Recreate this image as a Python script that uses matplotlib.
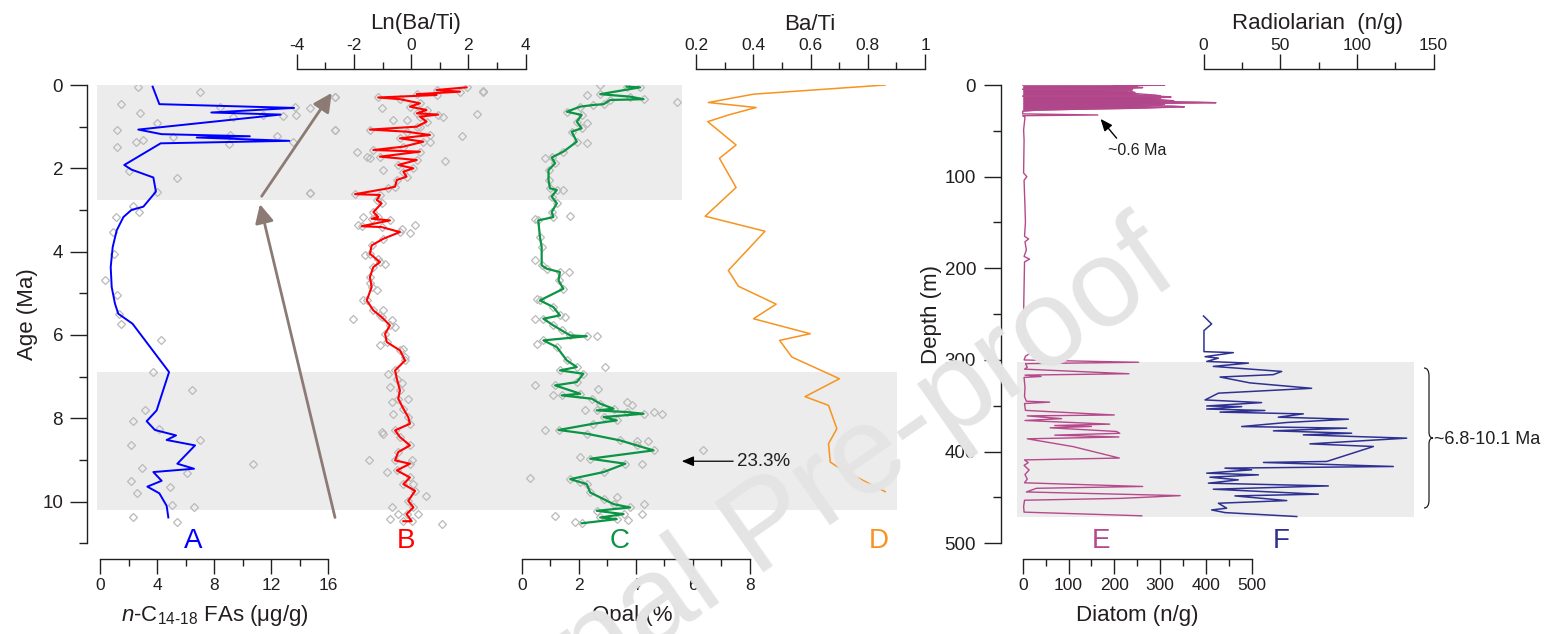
import matplotlib.pyplot as plt
from matplotlib.path import Path
from matplotlib.patches import PathPatch

plt.rcParams['font.family'] = ['Liberation Sans', 'DejaVu Sans']
plt.rcParams['axes.unicode_minus'] = False
plt.rcParams['mathtext.fontset'] = 'custom'
plt.rcParams['mathtext.rm'] = 'Liberation Sans'
plt.rcParams['mathtext.it'] = 'Liberation Sans:italic'

# ---------------- data ----------------
# A: n-C14-18 fatty acids (ug/g) against age (Ma)
fa_age = [0.04, 0.46, 0.55, 0.66, 0.71, 1.07, 1.18, 1.23, 1.26, 1.34, 1.40, 1.92, 2.03, 2.22,
          2.56, 2.92, 3.0, 3.17, 3.49, 3.89, 4.37, 4.85, 5.25, 5.49, 5.73, 6.89, 7.81, 8.07,
          8.28, 8.41, 8.52, 8.65, 9.09, 9.21, 9.29, 9.50, 9.64, 9.80, 10.10, 10.38]
fa_val = [3.69, 4.16, 13.6, 7.8, 12.66, 2.68, 4.32, 10.5, 6.78, 13.27, 4.25, 1.7, 2.2, 3.74,
          3.92, 3.04, 2.2, 1.64, 1.17, 0.89, 0.75, 0.82, 1.05, 1.28, 2.28, 4.84, 3.97, 3.27,
          3.85, 5.33, 4.67, 6.66, 5.42, 6.59, 3.74, 4.32, 3.32, 4.16, 4.67, 4.79]
fa_pts_age = [0.04, 0.16, 0.46, 0.68, 0.92, 1.07, 1.48, 1.37, 1.31, 1.24, 1.20, 1.42, 1.23, 1.36,
              0.52, 0.76, 0.72, 0.75, 0.52, 0.72, 0.56, 0.28, 1.08, 2.23, 2.07, 2.56, 2.59, 2.91,
              3.05, 3.17, 3.53, 4.05, 4.69, 5.03, 5.49, 5.73, 6.13, 6.89, 7.32, 7.81, 8.07, 8.25,
              8.52, 8.64, 9.09, 9.19, 9.32, 9.50, 9.64, 9.80, 10.07, 10.14, 10.38, 10.50]
fa_pts_val = [2.69, 7.01, 1.45, 2.80, 3.97, 1.17, 1.21, 2.52, 3.04, 5.14, 9.11, 9.06, 12.38, 13.55,
              8.41, 9.34, 11.45, 12.85, 13.67, 13.74, 14.72, 16.47, 16.47, 5.42, 2.06, 3.97, 14.72, 2.34,
              2.76, 1.12, 0.89, 0.98, 0.35, 1.17, 1.33, 1.45, 4.27, 3.69, 6.42, 3.15, 2.34, 4.16,
              7.01, 2.15, 10.7, 2.92, 6.07, 2.15, 4.91, 2.62, 5.02, 6.61, 2.34, 5.42]

# B: Ln(Ba/Ti) against age
lnba_age = [0.056, 0.12, 0.16, 0.22, 0.24, 0.30, 0.34, 0.44, 0.52, 0.60, 0.68, 0.71, 0.76, 0.88,
            1.0, 1.07, 1.12, 1.20, 1.28, 1.36, 1.48, 1.56, 1.60, 1.72, 1.80, 1.92, 2.0, 2.08,
            2.20, 2.28, 2.44, 2.48, 2.62, 2.64, 2.76, 2.84, 3.05, 3.17, 3.21, 3.25, 3.39, 3.41,
            3.53, 3.69, 3.85, 4.05, 4.25, 4.37, 4.61, 4.85, 5.17, 5.41, 5.57, 5.77, 5.97, 6.17,
            6.37, 6.61, 6.85, 7.05, 7.33, 7.53, 7.77, 7.97, 8.13, 8.29, 8.45, 8.65, 8.81, 9.01,
            9.09, 9.25, 9.42, 9.58, 9.74, 9.98, 10.14, 10.30, 10.47, 10.47]
lnba_val = [1.94, 0.89, 1.71, 0.2, 0.89, -1.15, -0.39, 0.31, -0.04, 0.54, 0.2, 0.95, 0.31, 0.54,
            0.2, -1.44, -0.16, 0.66, -0.39, 0.43, -0.27, -1.32, 0.31, -1.09, 0.2, -0.45, 0.08, -0.27,
            -0.16, -0.5, -0.56, -0.8, -1.96, -1.09, -1.2, -1.03, -1.32, -1.15, -1.38, -0.74, -1.73, -1.03,
            -0.39, -0.97, -1.38, -1.44, -1.09, -1.32, -1.44, -1.38, -1.55, -1.32, -1.03, -0.74, -0.91, -0.85,
            -0.39, -0.21, -0.56, -0.5, -0.39, -0.45, -0.27, -0.1, -0.04, -0.56, -0.39, -0.04, -0.45, -0.56,
            -0.04, -0.5, -0.04, -0.27, 0.14, -0.1, 0.08, -0.16, 0.02, -0.27]
lnba_pts_age = [0.16, 0.70, 1.23, 1.82, 1.36, 0.78, 1.08, 0.28, 0.56, 1.60, 1.72, 1.76, 2.04, 0.84,
                3.37, 3.17, 3.37, 3.55, 3.45, 4.09, 4.17, 4.29, 4.93, 4.75, 5.17, 5.61, 5.41, 5.53,
                5.65, 5.81, 6.25, 6.33, 6.53, 6.93, 7.16, 7.25, 7.61, 7.53, 7.89, 8.37, 8.33, 9.01,
                9.29, 9.01, 9.58, 9.86, 10.14, 10.30, 10.54, 10.42, 10.30, 1.0, 0.84, 2.59, 0.14]
lnba_pts_val = [2.53, 2.29, 1.77, 1.19, 0.66, 1.13, -2.66, -2.66, -1.03, -1.9, -1.55, -1.44, -0.97, -0.62,
                -1.84, -1.67, 0.14, -0.04, -0.33, -1.61, -1.15, -0.91, -1.2, -1.44, -1.67, -2.02, -0.97, -1.09,
                -0.68, -0.56, -1.09, -0.27, -0.21, -0.8, -0.33, -0.74, -0.68, -0.1, -0.62, -0.97, -1.03, -1.46,
                -0.85, 0.02, 0.08, 0.52, -0.68, 0.25, 1.07, -0.74, -0.45, 0.31, -0.16, -3.53, 2.52]

# C: opal (%) against age
opal_age = [0.04, 0.056, 0.22, 0.28, 0.34, 0.36, 0.46, 0.48, 0.52, 0.64, 0.72, 0.88, 1.04, 1.12,
            1.36, 1.60, 1.74, 1.88, 2.04, 2.28, 2.48, 2.52, 2.68, 2.84, 3.05, 3.17, 3.25, 3.65,
            3.89, 4.33, 4.41, 4.49, 4.69, 4.89, 5.17, 5.33, 5.53, 5.61, 5.77, 5.89, 6.01, 6.03,
            6.13, 6.29, 6.61, 6.77, 6.85, 6.93, 7.13, 7.21, 7.41, 7.45, 7.53, 7.65, 7.77, 7.81,
            7.85, 7.89, 7.97, 8.05, 8.13, 8.28, 8.37, 8.53, 8.65, 8.77, 8.97, 9.09, 9.29, 9.46,
            9.58, 9.78, 9.94, 10.06, 10.14, 10.22, 10.30, 10.38, 10.42, 10.52]
opal_val = [3.68, 4.15, 2.75, 3.8, 4.27, 3.1, 2.87, 2.51, 2.05, 1.58, 2.1, 1.93, 2.1, 1.75,
            1.93, 1.46, 1.05, 1.17, 0.94, 0.94, 0.99, 1.23, 1.05, 1.23, 1.05, 1.11, 0.58, 0.64,
            0.7, 0.7, 0.88, 1.34, 1.29, 1.46, 0.64, 1.11, 1.34, 0.76, 1.11, 1.4, 1.7, 2.28,
            0.76, 1.23, 1.58, 1.93, 1.34, 2.16, 1.93, 1.17, 2.05, 1.4, 2.46, 2.75, 3.22, 2.63,
            3.68, 4.27, 2.87, 3.33, 2.51, 1.29, 2.28, 3.45, 4.03, 4.62, 2.4, 3.63, 2.87, 1.7,
            2.28, 2.4, 2.87, 3.22, 3.8, 2.63, 3.57, 2.75, 3.33, 2.1]
opal_pts_age = [0.40, 0.0, 0.24, 0.92, 1.40, 1.76, 2.52, 3.15, 3.21, 4.21, 4.49, 5.13, 5.61, 5.57,
                6.03, 6.21, 6.77, 7.19, 7.45, 7.29, 7.61, 7.69, 7.81, 7.85, 7.89, 8.29, 8.55, 8.55,
                8.93, 9.09, 9.43, 9.54, 9.90, 10.06, 10.30, 10.34, 10.50, 10.44, 8.77]
opal_pts_val = [5.44, 2.75, 2.28, 2.28, 2.28, 0.82, 1.46, 1.7, 0.47, 0.47, 1.64, 0.53, 0.47, 1.52,
                2.63, 0.53, 2.92, 0.47, 1.11, 2.69, 3.68, 3.86, 2.22, 4.62, 4.91, 0.82, 4.03, 4.44,
                2.05, 4.21, 0.29, 2.05, 3.33, 4.27, 4.21, 1.17, 1.87, 3.74, 6.36]

# D: Ba/Ti against age
bati_age = [0.0, 0.22, 0.42, 0.54, 0.72, 0.88, 1.44, 1.76, 2.46, 3.15, 3.51, 4.45, 4.83, 5.26,
            5.61, 5.97, 6.13, 6.53, 7.05, 7.48, 7.69, 8.25, 8.61, 9.05, 9.21, 9.58, 9.76]
bati_val = [0.861, 0.401, 0.243, 0.41, 0.313, 0.241, 0.34, 0.282, 0.34, 0.232, 0.441, 0.313, 0.348, 0.48,
            0.401, 0.599, 0.492, 0.535, 0.701, 0.581, 0.663, 0.692, 0.663, 0.669, 0.704, 0.809, 0.861]

# E: diatom (n/g) against depth (m)
diat_depth = [0.0, 0.2, 0.8, 1.5, 2.2, 2.8, 3.5, 4.3, 4.7, 5.0, 6.0, 7.0, 8.0, 9.0, 10.0, 11.0,
              11.8, 12.1, 12.4, 13.2, 14.0, 14.8, 15.6, 16.4, 17.2, 18.0, 18.6, 19.3, 20.0, 20.8,
              21.5, 22.3, 23.0, 23.8, 24.6, 25.5, 26.5, 27.5, 28.5, 31.5, 32.7, 33.5, 35, 49, 60,
              96, 100, 104, 133, 150, 165, 168, 171, 180, 187, 190, 193, 220, 249, 280, 285, 292,
              296, 300, 302.5, 304, 308, 310, 315, 316.5, 318, 319, 330, 340, 345, 346, 347.5, 355,
              360, 361, 364, 366, 370, 371.5, 372.5, 374, 378, 380, 382, 384, 386, 394.5, 407, 409,
              412, 415, 420, 425, 430, 434, 438, 440, 444, 448, 451, 453, 460, 466, 470]
diat_val = [0, 310, 200, 250, 240, 262, 235, 233, 0, 240, 228, 236, 245, 240, 262, 290,
            300, 0, 305, 324, 290, 300, 291, 310, 330, 300, 380, 422, 300, 310,
            298, 260, 330, 353, 300, 240, 120, 30, 0, 0, 164, 0, 5, 2, 3,
            2, 9, 3, 5, 6, 4, 13, 5, 8, 3, 15, 4, 3, 2, 4, 12, 18,
            6, 3, 253, 6, 10, 4, 232, 5, 40, 3, 5, 4, 8, 59, 4, 6,
            200, 10, 85, 5, 190, 70, 150, 60, 205, 212, 70, 210, 10, 110, 211, 4,
            12, 3, 14, 5, 10, 4, 262, 30, 8, 344, 213, 4, 2, 3, 260]

# F: radiolarian (n/g) against depth (m)
rad_depth = [252, 260.7, 267.9, 290.9, 292, 296.4, 298, 301.6, 303.4, 307, 312.5, 316, 318.6, 325,
             330.9, 336.2, 343.6, 346.5, 350.2, 350.9, 353.5, 355.1, 356.9, 358.8, 362.4, 364.6, 368.2,
             372.6, 374.4, 377.3, 379.9, 381.7, 385.3, 391.5, 394.4, 410.7, 411.8, 416.2, 418, 419.8,
             423.5, 425.3, 427.9, 430.8, 434.4, 437.4, 441, 446.4, 448.3, 453.4, 456.3, 461.7, 463.6,
             466.5, 470.8]
rad_val = [0, 5.3, 0.3, 0.3, 19.5, 1.0, 9.7, 2.1, 29.3, 6.4, 51, 45.6, 10.8, 30.3,
           70.5, 9.7, 1.0, 37.9, 2.1, 24.9, 2.1, 40, 10.8, 65.1, 48.8, 94.5, 54.3,
           24.9, 93.4, 45.6, 96.6, 65.1, 132.5, 69.4, 110.8, 80.4, 39.1, 123.8, 14, 31.4,
           2.1, 35.8, 4.2, 22.7, 3.2, 81.4, 6.4, 74.9, 20.5, 54.3, 9.7, 15.1, 5.3,
           14, 60.8]

# grey intervals
age_bands = [(0.0, 2.76), (6.9, 10.19)]
depth_band = (302, 471)

# ---------------- layout (pixel based) ----------------
W, H = 1559, 634
fig = plt.figure(figsize=(W / 100, H / 100), dpi=100)
INK = '#231f20'


def rect(x0, x1, y0, y1):
    return [x0 / W, 1 - y1 / H, (x1 - x0) / W, (y1 - y0) / H]


def lims(v0, p0, v1, p1, x0, x1):
    s = (p1 - p0) / (v1 - v0)
    return v0 - (p0 - x0) / s, v0 + (x1 - p0) / s


def style_x(ax, side, bounds, major, minor, labels, off):
    for k, s in ax.spines.items():
        s.set_visible(k == side)
    sp = ax.spines[side]
    sp.set_position(('outward', off * 0.72))
    sp.set_bounds(*bounds)
    sp.set_linewidth(1.0)
    sp.set_color(INK)
    ax.xaxis.set_ticks_position(side)
    ax.set_xticks(major, labels=labels)
    ax.set_xticks(minor, minor=True)
    ax.tick_params(axis='x', which='major', length=10.5, width=1.0, labelsize=12.5,
                   pad=3 if side == 'bottom' else 1.5, colors=INK)
    ax.tick_params(axis='x', which='minor', length=5, width=1.0, colors=INK)
    ax.tick_params(axis='y', left=False, right=False, labelleft=False, labelright=False)
    ax.patch.set_visible(False)


def style_y(ax, major, minor, ylim, pad):
    ax.spines['left'].set_visible(True)
    ax.spines['left'].set_linewidth(1.0)
    ax.spines['left'].set_color(INK)
    ax.tick_params(axis='y', left=True, labelleft=True)
    ax.set_yticks(major)
    ax.set_yticks(minor, minor=True)
    ax.set_ylim(*ylim)
    ax.tick_params(axis='y', which='major', length=12, width=1.0, labelsize=13.5, pad=pad, colors=INK)
    ax.tick_params(axis='y', which='minor', length=6, width=1.0, colors=INK)


LX0, LX1 = 86.7, 940
RX0, RX1 = 1001, 1445
Y0, Y1 = 85, 543.3
diamond = dict(ls='none', marker='D', ms=4, mfc='none', mec='#bababa', mew=0.9)

# A (host of the left panel)
axA = fig.add_axes(rect(LX0, LX1, Y0, Y1))
style_x(axA, 'bottom', (0, 16), [0, 4, 8, 12, 16], [2, 6, 10, 14], None, 16)
style_y(axA, [0, 2, 4, 6, 8, 10], [1, 3, 5, 7, 9, 11], (11, 0), 5)
axA.set_xlim(*lims(0, 100, 16, 328.3, LX0, LX1))
for (a0, a1), xr in zip(age_bands, [(97, 682), (97, 897)]):
    axA.axhspan(a0, a1, xmin=(xr[0] - LX0) / (LX1 - LX0), xmax=(xr[1] - LX0) / (LX1 - LX0),
                color='#ececec', lw=0, zorder=0)
axA.plot(fa_pts_val, fa_pts_age, **diamond)
axA.plot(fa_val, fa_age, color='#0000ff', lw=1.4)
arrow_kw = dict(arrowstyle='-|>,head_length=0.8,head_width=0.4', color='#8c7b75', lw=2.0,
                mutation_scale=14, shrinkA=0, shrinkB=0)
axA.annotate('', xy=(11.21, 2.86), xytext=(16.47, 10.38), arrowprops=arrow_kw)
axA.annotate('', xy=(16.24, 0.19), xytext=(11.33, 2.67), arrowprops=arrow_kw)

# B
axB = fig.add_axes(rect(LX0, LX1, Y0, Y1))
style_x(axB, 'top', (-4, 4), [-4, -2, 0, 2, 4], [-3, -1, 1, 3], None, 15.7)
axB.set_xlim(*lims(-4, 296.7, 4, 525.5, LX0, LX1))
axB.set_ylim(11, 0)
axB.plot(lnba_pts_val, lnba_pts_age, **diamond)
axB.plot(lnba_val, lnba_age, **diamond)
axB.plot(lnba_val, lnba_age, color='#ff0000', lw=1.5)

# C
axC = fig.add_axes(rect(LX0, LX1, Y0, Y1))
style_x(axC, 'bottom', (0, 8), [0, 2, 4, 6, 8], [1, 3, 5, 7], None, 16)
axC.set_xlim(*lims(0, 521.7, 8, 750, LX0, LX1))
axC.set_ylim(11, 0)
axC.plot(opal_pts_val, opal_pts_age, **diamond)
axC.plot(opal_val, opal_age, **diamond)
axC.plot(opal_val, opal_age, color='#0b9444', lw=1.6)
axC.annotate('', xy=(5.61, 9.03), xytext=(7.41, 9.03),
             arrowprops=dict(arrowstyle='-|>,head_length=0.6,head_width=0.25', color='black',
                             lw=0.9, mutation_scale=12, shrinkA=0, shrinkB=0))
axC.text(7.55, 9.03, '23.3%', ha='left', va='center', fontsize=13.5, color=INK)

# D
axD = fig.add_axes(rect(LX0, LX1, Y0, Y1))
style_x(axD, 'top', (0.2, 1.0), [0.2, 0.4, 0.6, 0.8, 1.0], [0.3, 0.5, 0.7, 0.9],
        ['0.2', '0.4', '0.6', '0.8', '1'], 15.7)
axD.set_xlim(*lims(0.2, 696, 1.0, 925, LX0, LX1))
axD.set_ylim(11, 0)
axD.plot(bati_val, bati_age, color='#f7931e', lw=1.1)

# E (host of the right panel)
axE = fig.add_axes(rect(RX0, RX1, Y0, Y1))
style_x(axE, 'bottom', (0, 500), [0, 100, 200, 300, 400, 500], [50, 150, 250, 350, 450], None, 16)
style_y(axE, [0, 100, 200, 300, 400, 500], [50, 150, 250, 350, 450], (500, 0), 6)
axE.set_xlim(*lims(0, 1022.7, 500, 1251.7, RX0, RX1))
axE.axhspan(*depth_band, xmin=(1017 - RX0) / (RX1 - RX0), xmax=(1413.6 - RX0) / (RX1 - RX0),
            color='#ececec', lw=0, zorder=0)
axE.fill_betweenx(diat_depth[:39], 0, diat_val[:39], color='#b0478a', lw=0)
axE.plot(diat_val, diat_depth, color='#b5498b', lw=1.0)
axE.annotate('', xy=(170, 37), xytext=(205, 58),
             arrowprops=dict(arrowstyle='-|>,head_length=0.6,head_width=0.25', color='black',
                             lw=1.0, mutation_scale=12, shrinkA=0, shrinkB=0))
axE.text(187, 72, '~0.6 Ma', ha='left', va='center', fontsize=11.5, color=INK)

# F
axF = fig.add_axes(rect(RX0, RX1, Y0, Y1))
style_x(axF, 'top', (0, 150), [0, 50, 100, 150], [25, 75, 125], None, 15.7)
axF.set_xlim(*lims(0, 1203.5, 150, 1433.5, RX0, RX1))
axF.set_ylim(500, 0)
axF.plot(rad_val, rad_depth, color='#2e3192', lw=1.1)

# ---------------- texts ----------------
def ftext(x, y, s, **kw):
    kw.setdefault('color', INK)
    return fig.text(x / W, 1 - y / H, s, **kw)


ftext(416, 29.5, 'Ln(Ba/Ti)', ha='center', va='baseline', fontsize=16)
ftext(810, 30, 'Ba/Ti', ha='center', va='baseline', fontsize=16)
ftext(1317, 29.5, 'Radiolarian  (n/g)', ha='center', va='baseline', fontsize=16)
ftext(215, 620.5, r'$\mathit{n}$-C$_{\mathregular{14\text{-}18}}$ FAs ($\mathregular{\mu}$g/g)',
      ha='center', va='baseline', fontsize=16)
ftext(636, 620.5, 'Opal (%)', ha='center', va='baseline', fontsize=16)
ftext(1137, 620.5, 'Diatom (n/g)', ha='center', va='baseline', fontsize=16)
ftext(27, 314, 'Age (Ma)', ha='center', va='center', rotation=90, fontsize=16)
ftext(932, 314, 'Depth (m)', ha='center', va='center', rotation=90, fontsize=16)
ftext(1434, 440, '~6.8-10.1 Ma', ha='left', va='center', fontsize=13)

for s, x, c in [('A', 193, '#0000ff'), ('B', 406, '#ff0000'), ('C', 620, '#0b9444'),
                ('D', 879, '#f7931e'), ('E', 1101, '#b5498b'), ('F', 1281, '#2e3192')]:
    ftext(x, 541, s, ha='center', va='center', fontsize=20, color=c)

# curly bracket next to the lower grey interval
bx, by0, by1, bym = 1424, 368, 508, 438
pts = [(bx, by0), (bx + 5, by0), (bx + 5, by0 + 8), (bx + 5, bym - 6), (bx + 5, bym), (bx + 9, bym),
       (bx + 5, bym), (bx + 5, bym + 6), (bx + 5, by1 - 8), (bx + 5, by1), (bx, by1)]
codes = [Path.MOVETO, Path.CURVE3, Path.CURVE3, Path.LINETO, Path.CURVE3, Path.CURVE3,
         Path.CURVE3, Path.CURVE3, Path.LINETO, Path.CURVE3, Path.CURVE3]
brace = Path([(x / W, 1 - y / H) for x, y in pts], codes)
fig.add_artist(PathPatch(brace, transform=fig.transFigure, fc='none', ec=INK, lw=0.9))

# watermark
ftext(768, 530, 'Journal Pre-proof', ha='center', va='center', rotation=35, rotation_mode='anchor',
      fontsize=90, color='#e4e4e4', zorder=50)

fig.savefig('out.png', dpi=100)
